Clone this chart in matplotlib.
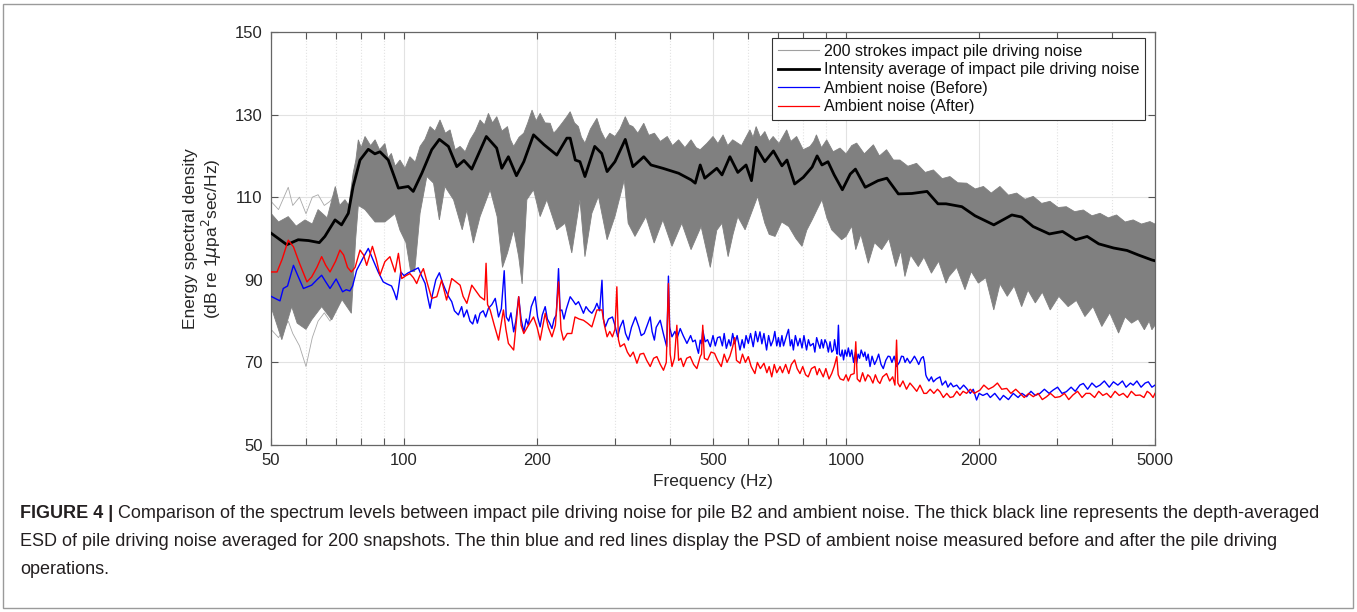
import numpy as np
import matplotlib
matplotlib.use("Agg")
import matplotlib.pyplot as plt
from matplotlib.lines import Line2D
from matplotlib.patches import Rectangle
from matplotlib.ticker import FixedLocator, NullFormatter

plt.rcParams['font.family'] = ['Liberation Sans', 'DejaVu Sans']

# ---- data (Hz, dB) ----
# upper edge of the 200 strokes (dense part)
band_up_f = [50, 52, 54.7, 57, 59.7, 62, 63.9, 67, 69.9, 71.5, 73.5, 75, 76.7, 77.8, 78.8, 80,
             81.6, 84, 86, 88, 90.5, 92, 93.6, 95.5, 97.9, 100.5, 103.1, 106, 108.7, 111.5,
             114.5, 117.5, 120.6, 124, 127.1, 130.5, 133.9, 137.5, 141.1, 145, 148.6, 152,
             155.2, 158.5, 162.1, 166.5, 171.4, 174, 177, 182, 186.6, 190.5, 194.8, 199,
             203.2, 208.5, 214.1, 218, 221.6, 228, 233.5, 237.6, 243, 248, 252, 256.6, 264,
             273.1, 279, 285.4, 292, 300, 308, 316.6, 323, 329.4, 338, 348.6, 358, 368.5,
             380, 394, 405, 418, 432, 446, 458, 467.8, 484, 500, 513, 527, 540, 554, 580,
             606, 616, 626, 640, 655, 670, 684, 705, 734, 750, 773, 800, 829, 845, 857, 880,
             904, 935, 969, 1000, 1030, 1057, 1100, 1153, 1190, 1235, 1280, 1324, 1380,
             1444, 1510, 1576, 1650, 1718, 1790, 1874, 1960, 2046, 2130, 2229, 2330, 2432,
             2540, 2652, 2770, 2893, 3020, 3150, 3290, 3442, 3600, 3754, 3920, 4092, 4280,
             4463, 4660, 4871, 5000]
band_up = [106.1, 104, 105.3, 103, 104.5, 103.5, 107, 105, 112.6, 108, 109.4, 108, 115.8, 119, 123.9, 122,
           124.7, 122.5, 123.9, 121.5, 123, 119.5, 120.6, 117.5, 119, 117, 119.8, 118.5, 122.3, 124,
           127.1, 126, 128.7, 125.5, 126.3, 121.5, 122.3, 121, 123.9, 126, 128.7, 127.5,
           130.3, 128, 129.5, 126, 127.1, 124, 122.3, 124.5, 125.5, 128, 131.1, 128.5,
           130.3, 128, 127.9, 125.5, 126.3, 128, 129.5, 130.7, 128, 127.1, 124.5, 123.1, 126.5,
           129.1, 126, 123.9, 125.5, 124.7, 126.5, 129.5, 127.5, 127.1, 125.5, 127.9, 125, 125.5,
           123.5, 124.7, 122.5, 123.9, 122, 123.9, 122, 121.5, 123, 124.7, 123, 125.1, 122.5, 123.9, 122.5,
           126.3, 124.5, 127.1, 124.5, 125.9, 123.5, 124.7, 123, 126.3, 123.5, 124.7, 121.5, 122.3, 123.5, 125.1, 122,
           123.9, 121, 121.9, 120.5, 122.5, 123.1, 120.5, 122.7, 120, 121.5, 119, 119, 117.5,
           118.2, 116, 116.6, 114.5, 115, 113.5, 113.4, 112, 112.6, 111, 112.6, 110.5, 111,
           109.5, 110.2, 108.5, 109, 107.5, 107.7, 106.5, 106.9, 105.5, 106.1, 105, 105.7, 104,
           104.5, 103.5, 104.1, 103.5]

# lower edge of the 200 strokes (dense part with its downward spikes)
band_lo_f = [50, 52.9, 55.7, 57.3, 60, 61.8, 65.1, 68.6, 72.4, 76, 77.7, 78.8, 81.6, 86, 90.5,
             95.4, 97.9, 101, 103.5, 105.7, 108.7, 112.6, 116.6, 120.2, 123.7, 129.4, 135.4,
             138.7, 143.5, 148.6, 156.6, 162.4, 167, 171.4, 177, 181.7, 185, 189.6, 196.3,
             203.2, 210.4, 221.6, 231.5, 239.6, 250, 256.6, 266, 275.3, 288, 300, 315, 321.4,
             333, 352.6, 368, 385, 403.8, 425, 446, 470, 493, 510, 524, 541, 555, 569, 591,
             610, 631, 655, 670, 691, 715, 742, 770, 795, 815, 838, 860, 882, 905, 928, 950,
             977, 1000, 1030, 1052, 1080, 1123, 1160, 1204, 1250, 1296, 1330, 1359, 1400,
             1457, 1500, 1560, 1620, 1683, 1710, 1780, 1858, 1920, 1992, 2070, 2159, 2230,
             2316, 2400, 2496, 2580, 2680, 2780, 2897, 3030, 3180, 3320, 3471, 3620, 3790,
             3950, 4136, 4280, 4426, 4580, 4730, 4850, 4920, 5000]
band_lo = [83.5, 75.5, 83.5, 79.5, 78, 80.3, 83.5, 80.3, 85.2, 81.9, 99.7, 108, 107, 104, 104,
           106, 102, 99, 92, 92, 106.1, 115, 113.4, 104.5, 112.6, 109.4, 102.1,
           106.9, 98.9, 105.3, 111.8, 105.3, 93, 96.5, 102.1, 95.6, 89, 109.4, 111.8,
           105.3, 109.4, 102.1, 103.7, 96.5, 109.4, 95.6, 106.1, 110.2, 99.7, 105.3, 114.2, 103.7,
           100.5, 105.3, 98.9, 104.5, 98.1, 103.7, 97.3, 102.9, 93, 102, 103.7, 95.6, 101, 105.3, 102.1,
           106, 110.2, 103.7, 101, 100.5, 104, 102.9, 100, 98.1, 102, 104.5, 107, 109.4, 105, 102.1, 101,
           99.7, 100.5, 103, 97.3, 101, 94, 99, 97.3, 100, 93.2, 97, 90.8, 96,
           93.2, 95.5, 91.6, 94.5, 89.2, 90.8, 93, 87.6, 92, 89.2, 90.5, 82.7, 89,
           86, 88.5, 83.5, 87.5, 84.4, 87, 82.7, 86, 83.5, 85, 81.1, 83.5, 78.7,
           82, 77.1, 81, 79.5, 80.5, 77.9, 80, 77.9, 79]

# stray single strokes at low frequency
stray_f = [50, 52, 54.7, 56, 58, 60, 62, 63.9, 66, 68, 70]
stray_hi = [109, 107, 112.4, 108, 110, 106, 110, 110.6, 108, 109, 111]
stray_lo = [78, 76, 80, 77, 74, 69, 76, 80, 82, 80, 83]

# intensity average
avg_f = [50, 54.3, 57.6, 60.8, 64.3, 66.2, 69.8, 72.2, 74.8, 76.7, 79.5, 83.0, 85.9, 88.2, 92.1,
         97.1, 102.2, 104.9, 109.7, 115.5, 120.2, 126, 131.6, 136.6, 142.3, 153.5, 162, 166.4,
         172.2, 179.6, 186.6, 196.3, 207.4, 221.6, 233.5, 237.6, 244, 250, 256.6, 270, 280,
         288, 300, 316.6, 329.4, 348.6, 362, 385, 418, 446, 455.8, 467.8, 479, 510, 524,
         546, 569, 594, 611, 626, 655, 685, 716, 735, 765, 800, 838, 860, 882, 910, 940,
         981, 1022, 1050, 1105, 1181, 1237, 1313, 1409, 1525, 1614, 1683, 1828, 1958, 2159,
         2372, 2495, 2649, 2884, 3089, 3306, 3512, 3730, 4031, 4323, 4587, 4920, 5000]
avg_db = [101.3, 98.5, 99.7, 99.5, 99.0, 100.5, 104.5, 103.3, 106.1, 112.6, 119, 121.6, 120.5, 121, 119,
          112.2, 112.6, 111.4, 115.8, 121.5, 124, 122.3, 117.4, 118.9, 116.8, 124.7, 121.9, 117,
          119.8, 115.2, 118.6, 125.1, 122.7, 120.2, 124.3, 124.3, 119, 118.6, 115, 122.3, 120.6,
          116.2, 118.6, 124, 117.4, 119.8, 117.8, 117, 115.8, 114.2, 113.4, 117.8, 114.6, 117, 115.4,
          119.8, 116, 117.8, 114, 122.1, 118.6, 121.2, 117.6, 119, 113.2, 114.8, 117.3, 120, 117.8, 118.6, 115.4,
          111.8, 115.6, 116.8, 112.4, 114, 114.6, 110.8, 110.9, 111.4, 108.4, 108.4, 107.7, 105.5, 103.3,
          105.7, 105.2, 102.9, 101.1, 101.7, 99.7, 100.5, 98.7, 97.7, 97.1, 96, 94.8, 94.6]

# ambient noise before
before_f = [50, 51.5, 52.4, 53.3, 54.5, 56.2, 57.5, 59.2, 60.5, 61.8, 63.5, 65.1, 66.5, 68, 70.2,
            72.6, 74, 75.4, 76.5, 78.1, 80.5, 83, 85.1, 87.4, 89.7, 91.5, 93.7, 95, 96.2, 97,
            98.3, 100, 102.2, 105, 107.7, 109.5, 111.6, 113, 114.5, 116, 118, 120.2, 122,
            123.7, 126, 128.2, 130, 132.7, 135, 136.5, 138.7, 141, 143, 145, 146.5, 148.6,
            151, 153, 155.2, 158, 160.8, 163.6, 166, 168.5, 170.3, 172.5, 174.5, 177, 179,
            181.7, 184, 186.6, 189, 191, 194, 198, 200.5, 203.2, 205.5, 208.6, 211, 213.5,
            216.1, 218.5, 221, 223.6, 225.5, 227.5, 230, 233, 237.6, 241, 244.5, 248.1, 251,
            254.6, 258, 262, 266, 270, 273.1, 277, 280.4, 282.5, 285.4, 290, 296.1, 300,
            304.4, 308, 313, 317, 321.8, 327, 333.8, 340, 344, 349.4, 355, 360.5, 364,
            368.4, 372, 379.8, 386, 392.8, 396.4, 399, 403.8, 410, 415, 421.5, 428, 436.5,
            445, 450, 455.8, 460, 463.6, 467.8, 471, 474, 480, 486, 493, 500, 506, 512,
            518.5, 525, 530, 536, 543, 548, 554, 560, 567, 575.5, 582, 588, 594, 601, 608,
            616.5, 624, 631, 638.6, 645, 652, 661, 668, 676, 684, 690, 697, 703, 709, 716,
            722, 734, 741, 748, 754, 760, 768, 778, 786.6, 795, 803, 814, 822, 830, 843,
            850, 858, 866, 873, 880, 888, 896, 904, 912, 920, 928, 936, 942, 950, 955, 961,
            966, 973, 980, 987, 995, 1004, 1012, 1021, 1030, 1040, 1050, 1057, 1065, 1073,
            1082, 1095, 1103, 1112, 1122, 1133, 1145, 1160, 1173, 1185, 1200, 1214, 1230,
            1245, 1257, 1270, 1285, 1301, 1320, 1335, 1348, 1360, 1375, 1395, 1410, 1428,
            1444, 1460, 1480, 1495, 1505, 1515, 1521, 1540, 1560, 1576, 1600, 1631, 1650,
            1680, 1700, 1725, 1748, 1780, 1810, 1845, 1874, 1910, 1940, 1974, 2000, 2040,
            2085, 2120, 2170, 2229, 2270, 2330, 2389, 2450, 2500, 2562, 2620, 2680, 2746,
            2810, 2880, 2941, 3010, 3080, 3150, 3230, 3300, 3380, 3442, 3520, 3600, 3680,
            3754, 3840, 3940, 4026, 4120, 4220, 4300, 4400, 4463, 4550, 4650, 4750, 4829,
            4920, 5000]
before_db = [86, 85.3, 84.9, 87.9, 88.5, 93.5, 91, 87.9, 88.3, 88.7, 90, 91.1, 89.5, 87.9, 90.2,
             87.1, 87.6, 87.3, 88.5, 92.3, 95, 97.6, 94.8, 91.9, 89.5, 89, 88.5, 87, 85.2, 87.5,
             91.9, 91, 91.7, 92.3, 92.9, 91, 89.1, 86, 83.1, 86.5, 90, 91.7, 89.5,
             87.9, 86, 84.7, 82.5, 81.5, 83.5, 81, 82.7, 80, 79.3, 81.5, 79.5, 81.9,
             82.5, 81, 83.1, 84, 85.5, 81, 83, 92.2, 81, 80, 82, 77.4, 80,
             85.9, 80.5, 77.4, 80.5, 79, 83.5, 85.9, 81, 78.6, 81.5, 83.5, 80.5, 79.5,
             78.2, 80.5, 81.5, 92.7, 82.5, 82.7, 80.5, 83, 85.9, 85, 84, 84.7, 83.5,
             81.9, 83.5, 82.5, 81.9, 83, 84.3, 82.5, 89.9, 80.5, 78.6, 80.5, 81, 79,
             76.2, 78.5, 80.2, 77, 75.4, 78.5, 81, 78.5, 76.5, 77, 79, 81, 77.5,
             75.4, 78.5, 80.2, 77, 73.8, 90.9, 78.5, 76.2, 77.5, 76, 78.2, 76.5, 74.6,
             76.5, 75, 75.4, 73.5, 72.2, 75.4, 74.5, 77.8, 75, 75.5, 73.8, 76.5, 74, 76,
             76.2, 74, 77, 73.4, 75.5, 74, 77, 74.5, 76.5, 73, 75.5, 73.5, 76.5, 74.6, 77,
             73.8, 77.5, 75, 77.4, 74.5, 77, 73, 76.5, 74, 75.4, 77.5, 74, 76, 73.8, 76.5,
             74, 76.6, 78, 74, 75.5, 73, 76.5, 74, 75.8, 73.5, 76.5, 73, 75.5, 74, 74.6,
             72.5, 76, 74.5, 73.4, 75.5, 73.5, 75.5, 74.6, 72.5, 75, 72.5, 73, 75.5, 73, 72, 79,
             72, 71.5, 73, 70.6, 73, 71.5, 73.5, 71.4, 73, 70, 72.5, 69.8, 72, 71,
             73, 71.4, 72.5, 70.5, 72, 69, 71.5, 69.5, 70.6, 72, 69.5, 68.5, 70.5,
             71.5, 71.4, 70, 71.5, 69, 70, 71.5, 71.4, 70, 71, 69.8, 70.5, 71.5,
             70.6, 69.5, 71, 71.4, 70, 67, 66.5, 65.5, 66.5, 65.3, 66, 66.5, 64.5,
             65.5, 64, 65, 64.1, 64.5, 63.5, 64.5, 63.7, 62.5, 63.5, 60.9, 62.5, 62,
             62.5, 61.5, 62.5, 60.9, 62, 61, 62.5, 61.5, 62.5, 61.7, 63, 62, 62.5,
             63.5, 62.5, 63.3, 64, 62.5, 62.9, 64, 63, 64.5, 64.9, 63.5, 65, 64,
             64.5, 65.5, 64, 65.3, 64.5, 65.5, 64, 65, 64.5, 65.5, 64, 65, 65.3,
             64, 64.5]

# ambient noise after
after_f = [50, 51.6, 53, 54.7, 56.2, 58, 60.3, 61.8, 63.5, 65.1, 66.5, 68, 70, 71.6, 73, 74.5,
           76, 77.5, 79.5, 81, 82.3, 84.8, 86.5, 88.2, 90.5, 92.9, 95.4, 97.1, 98.8, 101,
           103.1, 105, 106.8, 108.5, 110.6, 113, 115.5, 118.6, 121.6, 124.8, 128.2, 131,
           133.9, 136, 138.7, 142.3, 145, 148.6, 152.1, 153.3, 154.5, 156.6, 160, 163.6,
           167.8, 170, 172.2, 177, 181.7, 184, 186.6, 190, 196.3, 200, 203.2, 208.6, 212,
           216.1, 220, 223.6, 226.5, 229.4, 234, 239.6, 243.6, 249, 254.6, 260, 266, 273.1,
           280.4, 284, 288, 292, 296.1, 300, 303, 305.5, 308.3, 315, 320, 324.8, 330,
           336.4, 342, 348.3, 354, 360.5, 367, 373.2, 380, 386.3, 392, 396.4, 400, 403.8,
           409, 414.2, 418, 423, 428.6, 436, 444, 452, 459.7, 467.8, 471, 474, 478, 486,
           495, 504, 512, 522, 530, 538, 546, 554, 560, 565, 575.5, 583, 592, 601, 610,
           622, 630, 640, 652, 662, 670, 679, 688, 697, 709, 718, 730, 742, 752, 765, 775,
           786.6, 798, 810, 821, 835, 850, 860, 870, 888, 900, 915, 928, 940, 953, 960,
           970, 987, 1000, 1012, 1025, 1043, 1052, 1060, 1075, 1090, 1105, 1120, 1133,
           1150, 1165, 1180, 1193, 1210, 1235, 1255, 1275, 1290, 1301, 1310, 1324, 1345,
           1370, 1395, 1418, 1445, 1470, 1500, 1521, 1550, 1580, 1610, 1631, 1660, 1690,
           1720, 1748, 1780, 1810, 1840, 1874, 1910, 1950, 2009, 2050, 2100, 2153, 2200,
           2250, 2309, 2360, 2420, 2474, 2530, 2590, 2652, 2720, 2780, 2843, 2900, 2970,
           3048, 3120, 3190, 3260, 3340, 3420, 3490, 3563, 3650, 3730, 3810, 3888, 3970,
           4060, 4150, 4237, 4330, 4420, 4520, 4624, 4720, 4800, 4871, 4950, 5000]
after_db = [91.9, 91.9, 95, 99.6, 98, 94, 89.5, 90.7, 93, 95.6, 93.5, 91.9, 94.5, 97.2, 96, 93,
            91.9, 93, 97.2, 96, 93.5, 98.1, 95, 91.1, 94.4, 95.6, 91.9, 96.4, 90.3, 91,
            91.5, 90.5, 89.1, 91, 92.7, 89, 85.5, 85.9, 89.9, 85.1, 90.3, 89.5,
            88.7, 86, 84.3, 88.7, 87.5, 85.9, 85.1, 94, 84, 82.7, 79, 75.4,
            82.7, 78, 74.6, 73, 85.9, 79, 77, 78.5, 81, 78.5, 75.4, 81.9, 78.5,
            76.2, 79, 89.5, 78, 75.4, 77, 77, 81, 80.5, 80.2, 79.5, 78.6, 82.7,
            82.7, 79, 76.2, 77.5, 76.2, 78, 88.3, 75.5, 73.8, 74.5, 72.5, 71.4, 72.5,
            69.8, 72, 72.2, 70.5, 69, 71, 71.4, 69.5, 68.1, 70, 89.1, 72, 69,
            71, 79, 70.5, 71, 69, 71, 71.4, 69.5, 68.5, 71.4, 72, 79, 71, 70.6,
            72.5, 72.2, 70.5, 69, 72, 70, 71.5, 73.8, 76, 70.5, 69.8, 72, 70, 71.4, 69,
            67.3, 70, 68.5, 69.8, 67.5, 69, 66.5, 69.5, 67.5, 69, 67.5, 69.5, 67.3, 69.5, 70.6, 68.5,
            67.3, 69, 67, 66.5, 68.5, 69, 67, 68.5, 66.5, 68.5, 66, 67.3, 69, 71.4, 67,
            66, 65.7, 67, 65.5, 67, 67.3, 75, 66, 65.3, 67.5, 65.5, 67, 66.5,
            65, 67, 65.5, 64.9, 66.5, 67.3, 65.5, 66.5, 64.5, 75.4, 65, 64.1, 65.5,
            63.5, 65, 64.1, 63, 64.5, 62.5, 62.5, 63.5, 62.5, 63.5, 62.9, 61.5, 62.5,
            61.5, 61.7, 63, 62, 63, 62.5, 63.5, 62.5, 63.3, 64.5, 63.5, 64.1, 65,
            63.5, 63.7, 62.5, 63.5, 62.5, 61.5, 62.5, 61.7, 62.5, 61, 61.7, 62.5, 61.5,
            61.7, 62.5, 61, 62.1, 63, 61.5, 62.5, 62.5, 61.5, 63, 62, 62.5, 61.5,
            63, 62, 62.5, 61.5, 63, 62, 62.1, 61.5, 63, 62.5, 61.5, 62.5]

major_ticks = [50, 100, 200, 500, 1000, 2000, 5000]
minor_ticks = [60, 70, 80, 90, 300, 400, 600, 700, 800, 900, 3000, 4000]
y_ticks = [50, 70, 90, 110, 130, 150]

labels = ['200 strokes impact pile driving noise',
          'Intensity average of impact pile driving noise',
          'Ambient noise (Before)', 'Ambient noise (After)']

caption = ['Comparison of the spectrum levels between impact pile driving noise for pile B2 and '
           'ambient noise. The thick black line represents the depth-averaged',
           'ESD of pile driving noise averaged for 200 snapshots. The thin blue and red lines '
           'display the PSD of ambient noise measured before and after the pile driving',
           'operations.']

fig = plt.figure(figsize=(13.57, 6.12), dpi=100)
ax = fig.add_axes([271 / 1357, 1 - 445 / 612, 884 / 1357, 413 / 612])

gray = '#808080'
ax.fill(np.concatenate([band_up_f, band_lo_f[::-1]]),
        np.concatenate([band_up, band_lo[::-1]]),
        color=gray, lw=0.6, ec=gray, zorder=2)
ax.plot(stray_f, stray_hi, color='#a8a8a8', lw=0.6, zorder=1.9)
ax.plot(stray_f, stray_lo, color='#a8a8a8', lw=0.6, zorder=1.9)

ax.plot(avg_f, avg_db, color='black', lw=2.0, zorder=3)
ax.plot(before_f, before_db, color='#0000ff', lw=1.0, zorder=4)
ax.plot(after_f, after_db, color='#ff0000', lw=1.0, zorder=5)

ax.set_xscale('log')
ax.set_xlim(50, 5000)
ax.set_ylim(50, 150)
ax.xaxis.set_major_locator(FixedLocator(major_ticks))
ax.xaxis.set_minor_locator(FixedLocator(minor_ticks))
ax.xaxis.set_minor_formatter(NullFormatter())
ax.set_xticklabels([str(t) for t in major_ticks])
ax.set_yticks(y_ticks)

ax.grid(True, which='major', color='#e2e2e2', lw=0.8, zorder=0)
ax.grid(True, which='minor', axis='x', color='#e2e2e2', lw=0.8, ls=':', zorder=0)
ax.set_axisbelow(True)

ax.tick_params(which='both', direction='in', top=True, right=True, length=5,
               width=0.8, color='#555555', labelsize=12, labelcolor='#262626', pad=6)
for s in ax.spines.values():
    s.set_color('#666666')
    s.set_linewidth(0.9)

ax.set_xlabel('Frequency (Hz)', fontsize=12.5, color='#262626', labelpad=4)
ax.set_ylabel('Energy spectral density\n(dB re 1$\\mu$pa$^2$sec/Hz)', fontsize=12.5,
              color='#262626', labelpad=8, linespacing=1.1)

handles = [Line2D([], [], color='#a0a0a0', lw=0.8),
           Line2D([], [], color='black', lw=2.0),
           Line2D([], [], color='#0000ff', lw=0.9),
           Line2D([], [], color='#ff0000', lw=0.9)]
leg = ax.legend(handles, labels, loc='upper right', bbox_to_anchor=(0.9887, 0.9855),
                borderaxespad=0, fontsize=11.5, fancybox=False, framealpha=1,
                edgecolor='#333333', handlelength=2.6, handletextpad=0.3,
                labelspacing=0.22, borderpad=0.35)
leg.get_frame().set_linewidth(0.8)
for t in leg.get_texts():
    t.set_color('#111111')

# figure border and caption
fig.patches.append(Rectangle((3 / 1357, 4 / 612), 1350 / 1357, 604 / 612,
                             transform=fig.transFigure, fill=False,
                             ec='#9a9a9a', lw=1.0))

cap_color = '#231f20'
# size the caption so the second line spans the same width as in the original
probe = fig.text(0, 0, caption[1], fontsize=12)
fig.canvas.draw()
w = probe.get_window_extent().width
probe.remove()
cap_size = 12 * (1279 - 20) / w

bold = fig.text(20 / 1357, 1 - 514 / 612, 'FIGURE 4 |', fontsize=cap_size,
                fontweight='bold', color=cap_color, va='center', ha='left')
fig.canvas.draw()
bb = bold.get_window_extent()
fig.text((bb.x1 + 5) / 1357, 1 - 514 / 612, caption[0],
         fontsize=cap_size, color=cap_color, va='center', ha='left')
fig.text(20 / 1357, 1 - 542 / 612, caption[1],
         fontsize=cap_size, color=cap_color, va='center', ha='left')
fig.text(20 / 1357, 1 - 569 / 612, caption[2],
         fontsize=cap_size, color=cap_color, va='center', ha='left')

fig.savefig('out.png', dpi=100)
